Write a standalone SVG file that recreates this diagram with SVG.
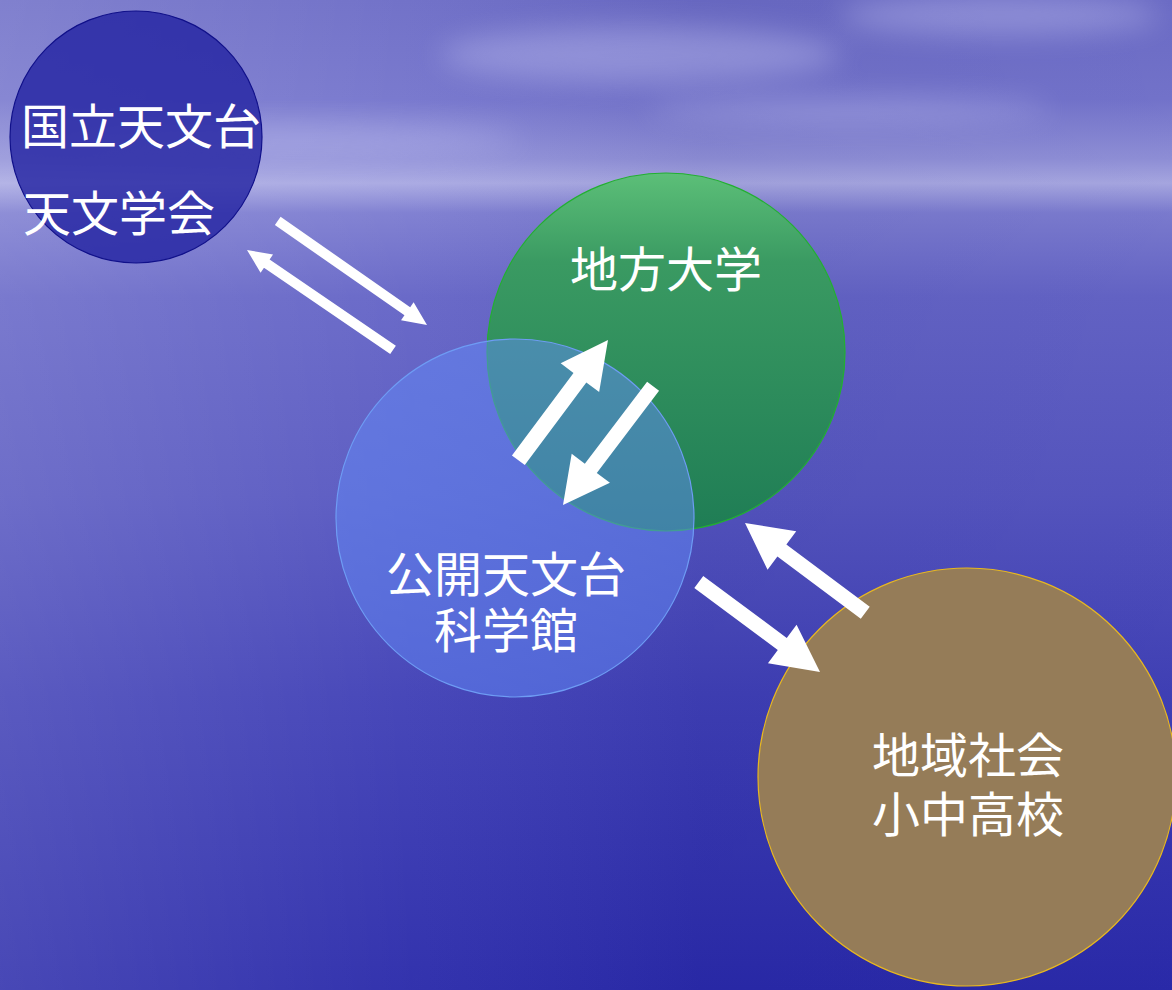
<svg xmlns="http://www.w3.org/2000/svg" width="1172" height="990" viewBox="0 0 1172 990">
<defs>
<linearGradient id="sky" x1="0" y1="0" x2="0" y2="1">
<stop offset="0" stop-color="#6c6cc6"/>
<stop offset="0.1" stop-color="#7474cc"/>
<stop offset="0.16" stop-color="#9090d8"/>
<stop offset="0.185" stop-color="#a8a8e2"/>
<stop offset="0.215" stop-color="#7c7cd0"/>
<stop offset="0.3" stop-color="#6464c6"/>
<stop offset="0.5" stop-color="#5656c0"/>
<stop offset="0.7" stop-color="#4040b6"/>
<stop offset="1" stop-color="#2a2aaa"/>
</linearGradient>
<linearGradient id="leftLight" x1="0" y1="0" x2="1" y2="0">
<stop offset="0" stop-color="#ffffff" stop-opacity="0.14"/>
<stop offset="0.35" stop-color="#ffffff" stop-opacity="0.04"/>
<stop offset="0.6" stop-color="#000040" stop-opacity="0.05"/>
<stop offset="1" stop-color="#000040" stop-opacity="0.02"/>
</linearGradient>
<linearGradient id="greenFill" x1="0" y1="0" x2="0" y2="1">
<stop offset="0" stop-color="#5cbf78"/>
<stop offset="0.25" stop-color="#3a9a62"/>
<stop offset="1" stop-color="#1f7d55"/>
</linearGradient>
<filter id="blur" x="-20%" y="-50%" width="140%" height="200%">
<feGaussianBlur stdDeviation="14"/>
</filter>
<style>
.lbl{font-family:"Noto Sans CJK JP","Noto Sans CJK SC",sans-serif;font-size:48px;fill:#ffffff}
.mid{text-anchor:middle}
.arrow{fill:#ffffff}
</style>
</defs>
<g id="background">
<rect width="1172" height="990" fill="url(#sky)"/>
<rect width="1172" height="990" fill="url(#leftLight)"/>
<g filter="url(#blur)" fill="#b8b8ec" opacity="0.45">
<ellipse cx="640" cy="55" rx="200" ry="28"/>
<ellipse cx="1000" cy="15" rx="160" ry="20"/>
<ellipse cx="300" cy="140" rx="220" ry="14"/>
<ellipse cx="850" cy="110" rx="200" ry="12"/>
</g>
</g>
<g id="node-naoj">
<circle cx="136" cy="137" r="126" fill="#2424a2" fill-opacity="0.82" stroke="#10108a" stroke-width="1.2"/>
<text class="lbl" x="21" y="144">国立天文台</text>
<text class="lbl" x="23" y="231">天文学会</text>
</g>
<g id="node-univ">
<circle cx="666" cy="352" r="179" fill="url(#greenFill)" stroke="#22b030" stroke-width="1.2"/>
<text class="lbl mid" x="666" y="287">地方大学</text>
</g>
<g id="node-public">
<circle cx="515" cy="518" r="179" fill="#628af7" fill-opacity="0.5" stroke="#6e9cf4" stroke-width="1.2"/>
<text class="lbl mid" x="506" y="592">公開天文台</text>
<text class="lbl mid" x="506" y="648">科学館</text>
</g>
<g id="node-community">
<circle cx="967" cy="777" r="209" fill="#957c58" stroke="#e8b820" stroke-width="1.2"/>
<text class="lbl mid" x="968" y="773">地域社会</text>
<text class="lbl mid" x="968" y="832">小中高校</text>
</g>
<g id="connectors">
<polygon class="arrow" points="0,0 -24,-11 -24,-5 -182,-5 -182,5 -24,5 -24,11" transform="translate(427,325) rotate(34.9)"/>
<polygon class="arrow" points="0,0 -24,-11 -24,-5 -177,-5 -177,5 -24,5 -24,11" transform="translate(247,250) rotate(214.4)"/>
<polygon class="arrow" points="0,0 -47,-24 -47,-8 -150,-8 -150,8 -47,8 -47,24" transform="translate(608,340) rotate(-53.3)"/>
<polygon class="arrow" points="0,0 -46,-24 -46,-7.5 -149,-7.5 -149,7.5 -46,7.5 -46,24" transform="translate(563,505) rotate(127.2)"/>
<polygon class="arrow" points="0,0 -46,-24 -46,-7.5 -150,-7.5 -150,7.5 -46,7.5 -46,24" transform="translate(745,523) rotate(216.7)"/>
<polygon class="arrow" points="0,0 -47,-24 -47,-7.5 -151,-7.5 -151,7.5 -47,7.5 -47,24" transform="translate(820,672) rotate(36.6)"/>
</g>
</svg>
